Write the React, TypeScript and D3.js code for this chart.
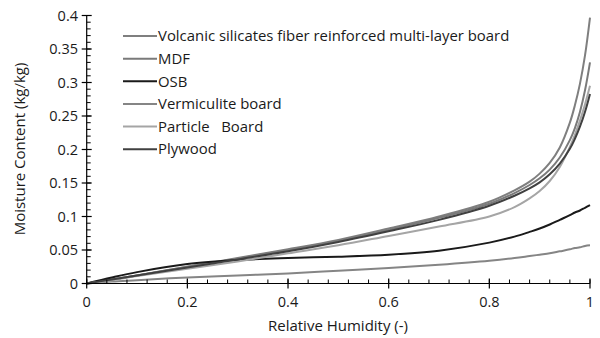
import React from "react";
import * as d3 from "d3";

const rh = [0, 0.05, 0.1, 0.2, 0.3, 0.4, 0.5, 0.6, 0.7, 0.8, 0.85, 0.88, 0.9, 0.92, 0.94, 0.96, 0.97, 0.98, 0.99, 1];
const volcanic = [0, 0.006, 0.012, 0.025, 0.038, 0.051, 0.065, 0.082, 0.1, 0.122, 0.139, 0.152, 0.164, 0.18, 0.203, 0.24, 0.266, 0.298, 0.34, 0.397];
const mdf = [0, 0.006, 0.012, 0.025, 0.037, 0.05, 0.064, 0.08, 0.098, 0.119, 0.135, 0.147, 0.157, 0.17, 0.188, 0.214, 0.232, 0.256, 0.288, 0.33];
const osb = [0, 0.009, 0.017, 0.029, 0.035, 0.038, 0.04, 0.043, 0.049, 0.061, 0.07, 0.077, 0.082, 0.088, 0.095, 0.102, 0.106, 0.109, 0.113, 0.117];
const vermiculite = [0, 0.003, 0.005, 0.009, 0.012, 0.015, 0.019, 0.023, 0.028, 0.034, 0.038, 0.041, 0.043, 0.045, 0.048, 0.051, 0.053, 0.054, 0.056, 0.057];
const particle = [0, 0.005, 0.011, 0.022, 0.033, 0.045, 0.057, 0.071, 0.085, 0.1, 0.114, 0.127, 0.138, 0.153, 0.174, 0.204, 0.222, 0.243, 0.267, 0.295];
const plywood = [0, 0.006, 0.012, 0.024, 0.036, 0.048, 0.062, 0.078, 0.095, 0.116, 0.131, 0.142, 0.151, 0.163, 0.179, 0.201, 0.216, 0.234, 0.256, 0.283];

const seriesNames = [
  "Volcanic silicates fiber reinforced multi-layer board",
  "MDF",
  "OSB",
  "Vermiculite board",
  "Particle   Board",
  "Plywood",
];
const seriesValues = [volcanic, mdf, osb, vermiculite, particle, plywood];
const seriesColors = ["#7f7f7f", "#7a7a7a", "#1a1a1a", "#858585", "#a5a5a5", "#404040"];

const xTicks = [0, 0.2, 0.4, 0.6, 0.8, 1];
const yTicks = [0, 0.05, 0.1, 0.15, 0.2, 0.25, 0.3, 0.35, 0.4];
const xMinor = d3.range(0, 1.0001, 0.04);
const yMinor = d3.range(0, 0.4001, 0.01);

const W = 600;
const H = 338;
const FONT = "'Open Sans', 'Noto Sans', sans-serif";

export default function App() {
  const x = d3.scaleLinear().domain([0, 1]).range([86.7, 590]);
  const y = d3.scaleLinear().domain([0, 0.4]).range([283.5, 15.5]);
  const line = d3
    .line<number>()
    .x((_, i) => x(rh[i]))
    .y((d) => y(d))
    .curve(d3.curveCatmullRom.alpha(0.5));

  const legendX0 = 123;
  const legendX1 = 157;
  const legendY0 = 36;
  const legendDy = 22.65;

  return (
    <svg
      width={W}
      height={H}
      style={{ position: "absolute", left: 0, top: 0, background: "#fff" }}
      fontFamily={FONT}
    >
      <rect width={W} height={H} fill="#fff" />
      {seriesValues.map((vals, i) => (
        <path key={i} d={line(vals) || ""} fill="none" stroke={seriesColors[i]} strokeWidth={2} />
      ))}
      <line x1={x(0)} x2={x(0)} y1={y(0)} y2={y(0.4)} stroke="#000" strokeWidth={1.2} />
      {yMinor.map((v, i) => (
        <line key={"ym" + i} x1={x(0)} x2={x(0) + 4} y1={y(v)} y2={y(v)} stroke="#000" strokeWidth={1} />
      ))}
      {yTicks.map((v, i) => (
        <g key={"yt" + i}>
          <line x1={x(0) - 5} x2={x(0) + 5} y1={y(v)} y2={y(v)} stroke="#000" strokeWidth={1.2} />
          <text x={78} y={y(v)} dy="0.35em" textAnchor="end" fontSize={14.5} fill="#1a1a1a">
            {String(v)}
          </text>
        </g>
      ))}
      <line x1={x(0)} x2={x(1)} y1={y(0)} y2={y(0)} stroke="#000" strokeWidth={1.2} />
      {xMinor.map((v, i) => (
        <line key={"xm" + i} x1={x(v)} x2={x(v)} y1={y(0)} y2={y(0) - 4} stroke="#000" strokeWidth={1} />
      ))}
      {xTicks.map((v, i) => (
        <g key={"xt" + i}>
          <line x1={x(v)} x2={x(v)} y1={y(0) - 5} y2={y(0) + 5} stroke="#000" strokeWidth={1.2} />
          <text x={x(v)} y={307} textAnchor="middle" fontSize={14.5} fill="#1a1a1a">
            {String(v)}
          </text>
        </g>
      ))}
      <text x={338} y={331} textAnchor="middle" fontSize={15} fill="#1a1a1a">
        Relative Humidity (-)
      </text>
      <text
        transform={`translate(25, ${149}) rotate(-90)`}
        textAnchor="middle"
        fontSize={15}
        fill="#1a1a1a"
      >
        Moisture Content (kg/kg)
      </text>
      {seriesNames.map((name, i) => (
        <g key={"lg" + i}>
          <line
            x1={legendX0}
            x2={legendX1}
            y1={legendY0 + i * legendDy}
            y2={legendY0 + i * legendDy}
            stroke={seriesColors[i]}
            strokeWidth={2}
          />
          <text
            x={legendX1 + 1}
            y={legendY0 + i * legendDy}
            dy="0.35em"
            fontSize={14.9}
            fill="#1a1a1a"
            style={{ whiteSpace: "pre" }}
          >
            {name}
          </text>
        </g>
      ))}
    </svg>
  );
}
